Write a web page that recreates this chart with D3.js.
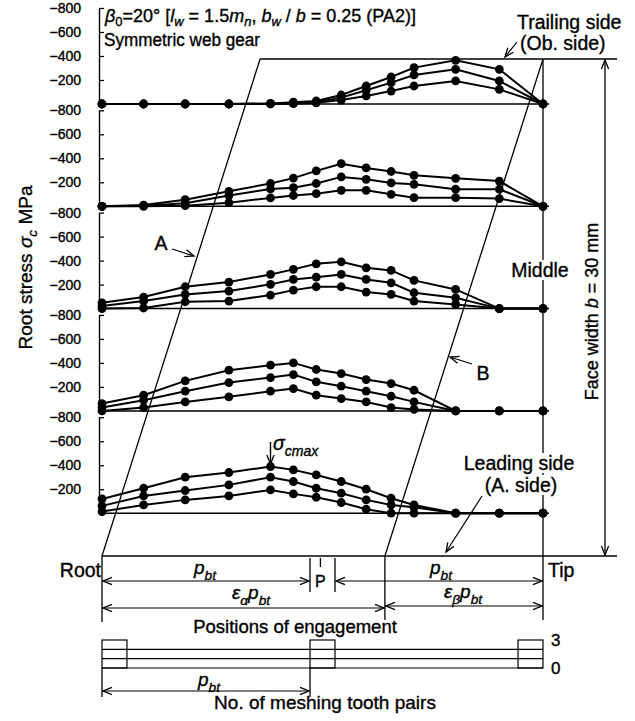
<!DOCTYPE html>
<html>
<head>
<meta charset="utf-8">
<script src="https://cdn.jsdelivr.net/npm/d3@7"></script>
<style>
  body { margin: 0; background: #fff; }
  svg { display: block; }
  text { font-family: "Liberation Sans", Arial, Helvetica, sans-serif; fill: #000; stroke: #000; stroke-width: 0.35px; }
</style>
</head>
<body>
<svg id="chart" width="635" height="721"></svg>
<script>
// Engagement geometry, in units of the transverse base pitch p_bt
const epsAlpha = 1.36;
const epsBeta = 0.76;
const epsGamma = epsAlpha + epsBeta;          // tip of the path of contact
const pitchPoint = 1.05;
const pZone = [1.0, 1.12];
const threePairZones = [[0, 0.12], [1.0, 1.12], [2.0, 2.12]];
const pairLines = [0, 1, 2];
const pairLabels = [0, 3];

// Measuring positions along the tooth (root -> tip), p_bt units
const positions = [0, 0.2, 0.4, 0.61, 0.81, 0.92, 1.03, 1.15, 1.27, 1.39, 1.5, 1.7, 1.91, 2.12];
const stressTicks = [-800, -600, -400, -200];

// Root stress σc (MPa), three curves per face-width section
const stressTrailing = [
  [0, 0, 0, 0, -5, -15, -25, -75, -150, -225, -303, -364, -289, 0],
  [0, 0, 0, 0, -3, -8, -15, -53, -114, -178, -242, -289, -192, 0],
  [0, 0, 0, 0, 0, -3, -10, -33, -67, -108, -150, -192, -122, 0]
];
const stressQuarterT = [
  [0, -10, -55, -125, -190, -235, -295, -355, -320, -290, -258, -233, -210, 0],
  [0, -5, -25, -90, -145, -155, -190, -245, -225, -195, -183, -142, -142, 0],
  [0, 0, -5, -30, -70, -90, -105, -133, -133, -100, -72, -72, -64, 0]
];
const stressMiddle = [
  [-48, -96, -182, -221, -285, -327, -373, -390, -340, -318, -235, -160, 0, 0],
  [-21, -63, -118, -146, -202, -243, -262, -285, -243, -215, -132, -90, 0, 0],
  [0, -5, -57, -63, -113, -154, -182, -182, -138, -118, -63, -35, 0, 0]
];
const stressQuarterL = [
  [-61, -131, -250, -339, -381, -400, -345, -311, -261, -228, -172, 0, 0, 0],
  [-28, -89, -164, -236, -278, -303, -242, -206, -164, -122, -75, 0, 0, 0],
  [0, -28, -75, -117, -164, -186, -131, -103, -75, -28, -12, 0, 0, 0]
];
const stressLeading = [
  [-119, -208, -300, -339, -389, -361, -319, -264, -200, -125, -69, 0, 0, 0],
  [-61, -144, -189, -236, -300, -264, -208, -167, -111, -69, -50, 0, 0, 0],
  [-14, -69, -111, -144, -194, -161, -133, -89, -33, 0, 0, 0, 0, 0]
];
const sections = [stressTrailing, stressQuarterT, stressMiddle, stressQuarterL, stressLeading];

const svg = d3.select("#chart");

// arrowhead: open V
const defs = svg.append("defs");
defs.append("marker")
  .attr("id", "arr").attr("viewBox", "-10 -5 12 10")
  .attr("refX", 0).attr("refY", 0)
  .attr("markerWidth", 12).attr("markerHeight", 10)
  .attr("markerUnits", "userSpaceOnUse")
  .attr("orient", "auto-start-reverse")
  .append("path").attr("d", "M-9,-3.6 L0,0 L-9,3.6")
  .attr("fill", "none").attr("stroke", "#000").attr("stroke-width", 1.3);

const x = d3.scaleLinear().domain([0, epsGamma]).range([102, 543]);

const yTop = 59, yBottom = 556;   // face width b: trailing side -> leading side
const xRight = 617;

function line(x1, y1, x2, y2, w = 1.3, markStart = false, markEnd = false) {
  const l = svg.append("line").attr("x1", x1).attr("y1", y1).attr("x2", x2).attr("y2", y2)
    .attr("stroke", "#000").attr("stroke-width", w);
  if (markStart) l.attr("marker-start", "url(#arr)");
  if (markEnd) l.attr("marker-end", "url(#arr)");
  return l;
}

// text built from runs: {t, i: italic, sub: subscript}
function rich(parent, px, py, parts, size, anchor = "start", drop = 0.3) {
  const t = parent.append("text").attr("x", px).attr("y", py)
    .attr("font-size", size).attr("text-anchor", anchor);
  let shift = 0;
  parts.forEach(p => {
    const ts = t.append("tspan").text(p.t);
    if (p.i) ts.attr("font-style", "italic");
    const target = p.sub ? size * drop : 0;
    if (target !== shift) { ts.attr("dy", target - shift); shift = target; }
    if (p.sub) ts.attr("font-size", size * 0.72);
  });
  return t;
}
function label(px, py, str, size, anchor = "start") {
  return svg.append("text").attr("x", px).attr("y", py).attr("font-size", size)
    .attr("text-anchor", anchor).text(str);
}
function backed(t) {
  const b = t.node().getBBox();
  svg.insert("rect", () => t.node()).attr("x", b.x - 1).attr("y", b.y + 1)
    .attr("width", b.width + 2).attr("height", b.height - 2).attr("fill", "#fff");
}

// ---- face-width parallelogram (line of contact) ----
line(x(epsBeta), yTop, xRight, yTop);
line(x(0), yBottom, xRight, yBottom);
line(x(0), yBottom, x(epsBeta), yTop);                 // A
line(x(epsAlpha), yBottom, x(epsGamma), yTop);         // B
line(x(epsGamma), yTop, x(epsGamma), yBottom);         // tip
line(605, yTop + 1, 605, yBottom - 1, 1.3, true, true);

// ---- stress panels ----
const panelStep = 102.3, panelH = 96, firstBase = 104;
const lineGen = d3.line();
sections.forEach((series, i) => {
  const base = firstBase + panelStep * i;
  const y = d3.scaleLinear().domain([-800, 0]).range([base - panelH, base]);
  const g = svg.append("g");
  const ax = g.append("g").attr("transform", `translate(99,0)`)
    .call(d3.axisLeft(y).tickValues(stressTicks).tickSizeInner(-5).tickSizeOuter(0).tickPadding(18)
      .tickFormat(d => "\u2212" + Math.abs(d)));
  ax.select(".domain").attr("stroke-width", 1.4);
  ax.selectAll(".tick line").attr("stroke-width", 1.3);
  ax.selectAll(".tick text").attr("font-size", 14)
    .attr("font-family", "Liberation Sans, Arial, sans-serif");
  g.append("line").attr("x1", 99).attr("x2", x(epsGamma) + 6).attr("y1", y(0)).attr("y2", y(0))
    .attr("stroke", "#000").attr("stroke-width", 1.5);
  series.forEach(vals => {
    const pts = vals.map((v, j) => [x(positions[j]), y(v)]);
    g.append("path").attr("d", lineGen(pts)).attr("fill", "none")
      .attr("stroke", "#000").attr("stroke-width", 2);
    g.selectAll(null).data(pts).join("circle")
      .attr("cx", d => d[0]).attr("cy", d => d[1]).attr("r", 4.4).attr("fill", "#000");
  });
});

// ---- annotations ----
rich(svg, 105, 22, [
  {t: "β", i: true}, {t: "0", sub: true}, {t: "=20° ["}, {t: "l", i: true}, {t: "w", i: true, sub: true},
  {t: " = 1.5"}, {t: "m", i: true}, {t: "n", i: true, sub: true}, {t: ", "}, {t: "b", i: true},
  {t: "w", i: true, sub: true}, {t: " / "}, {t: "b", i: true}, {t: " = 0.25 (PA2)]"}
], 18, "start", 0.24);
label(104, 46, "Symmetric web gear", 18)
  .attr("textLength", 156).attr("lengthAdjust", "spacingAndGlyphs");

label(517, 29, "Trailing side", 19.5, "start");
label(520, 50, "(Ob. side)", 19.5, "start");
line(517, 42, 505, 57, 1.2, false, true);

const mid = label(540, 277, "Middle", 19.5, "middle");
backed(mid);
const lead1 = label(519, 470, "Leading side", 19.5, "middle");
const lead2 = label(521, 492, "(A. side)", 19.5, "middle");
backed(lead1); backed(lead2);
line(482, 496, 446, 552, 1.2, false, true);

label(161, 250, "A", 19.5, "middle");
line(172, 249, 194, 256, 1.2, false, true);
label(483, 380, "B", 19.5, "middle");
line(472, 364, 450, 357, 1.2, false, true);

line(x(0.81), 442, x(0.81), 464, 1.4, false, true);
rich(svg, 273, 450, [{t: "σ", i: true}, {t: "cmax", i: true, sub: true}], 19.5);

svg.append("text").attr("transform", "translate(32,267.5) rotate(-90)")
  .attr("font-size", 19).attr("text-anchor", "middle")
  .call(t => {
    t.append("tspan").text("Root stress  ");
    t.append("tspan").attr("font-style", "italic").text("σ");
    t.append("tspan").attr("font-style", "italic").attr("font-size", 13.5).attr("dy", 5).text("c");
    t.append("tspan").attr("dy", -5).text(" MPa");
  });
svg.append("text").attr("transform", "translate(598,311.5) rotate(-90)")
  .attr("font-size", 18).attr("text-anchor", "middle")
  .call(t => {
    t.append("tspan").text("Face width ");
    t.append("tspan").attr("font-style", "italic").text("b");
    t.append("tspan").text(" = 30 mm");
  });

// ---- positions of engagement ----
label(101, 577, "Root", 19.5, "end");
label(548, 577, "Tip", 19.5, "start");
line(x(0), yBottom, x(0), 622);
line(x(epsAlpha), yBottom, x(epsAlpha), 620);
line(x(epsGamma), yBottom, x(epsGamma), 620);
line(x(pZone[0]), 558, x(pZone[0]), 592);
line(x(pZone[1]), 558, x(pZone[1]), 592);
line(x(pitchPoint), 558, x(pitchPoint), 567);
label(x(pitchPoint), 587, "P", 16, "middle");

line(x(0) + 1, 581, x(pZone[0]) - 1, 581, 1.2, true, true);
line(x(pZone[1]) + 1, 581, x(epsGamma) - 1, 581, 1.2, true, true);
line(x(0) + 1, 608, x(epsAlpha) - 1, 608, 1.2, true, true);
line(x(epsAlpha) + 1, 606, x(epsGamma) - 1, 606, 1.2, true, true);
const pbt = [{t: "p", i: true}, {t: "bt", i: true, sub: true}];
rich(svg, 205, 574, pbt, 19, "middle");
rich(svg, 441, 574, pbt, 19, "middle");
rich(svg, 251, 599, [{t: "ε", i: true}, {t: "α", i: true, sub: true}, {t: "p", i: true}, {t: "bt", i: true, sub: true}], 19, "middle");
rich(svg, 463, 598, [{t: "ε", i: true}, {t: "β", i: true, sub: true}, {t: "p", i: true}, {t: "bt", i: true, sub: true}], 19, "middle");
label(295, 633, "Positions of engagement", 18.5, "middle");

// ---- number of meshing tooth pairs ----
const yp = d3.scaleLinear().domain([0, 3]).range([668, 640]);
pairLines.forEach(n => line(x(0), yp(n), x(epsGamma), yp(n), 1.2));
threePairZones.forEach(([a, b]) => {
  svg.append("rect").attr("x", x(a)).attr("y", yp(3)).attr("width", x(b) - x(a)).attr("height", yp(0) - yp(3))
    .attr("fill", "none").attr("stroke", "#000").attr("stroke-width", 1.2);
});
pairLabels.forEach(n => label(551, yp(n) + 6, String(n), 17));
line(x(0), yp(0), x(0), 697);
line(x(1), yp(0), x(1), 697);
line(x(0) + 1, 691, x(1) - 1, 691, 1.2, true, true);
rich(svg, 209, 686, pbt, 19, "middle");
label(325, 709, "No. of meshing tooth pairs", 19, "middle");
</script>
</body>
</html>
